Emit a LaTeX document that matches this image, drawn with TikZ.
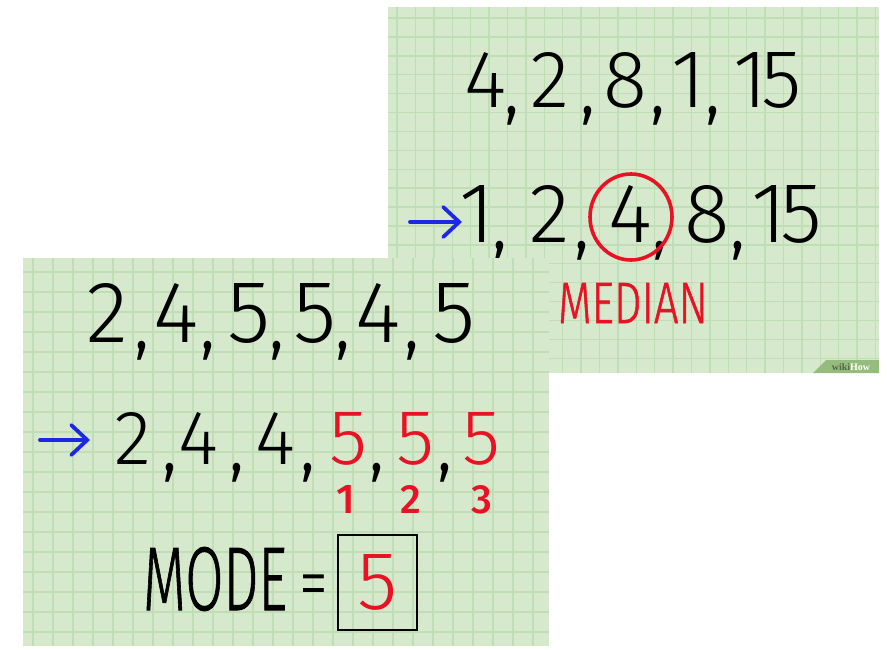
\documentclass[tikz,border=0pt]{standalone}
\usepackage{fontspec}
\usepackage{graphicx}
\newfontfamily\hand{Fira Sans Light}
\newfontfamily\handb{Fira Sans Light}[FakeBold=1.1]
\newfontfamily\handr{Fira Sans}
\newfontfamily\handm{Fira Sans Medium}
\newfontfamily\badgefont{Liberation Serif}
\usetikzlibrary{arrows.meta}
\definecolor{paper}{RGB}{214,233,204}
\definecolor{gridc}{RGB}{191,222,181}
\definecolor{inkred}{RGB}{232,18,36}
\definecolor{inkblue}{RGB}{28,40,228}
\definecolor{badgec}{RGB}{150,188,125}
\definecolor{badgedark}{RGB}{88,100,78}
\newlength\dgh
% one digit, centred on the current point, of height \dgh
\newcommand\C[1]{\makebox[0pt]{\resizebox{!}{\dgh}{\hand\fontsize{80}{80}\selectfont #1}}}
\newcommand\R[1]{\textcolor{inkred}{\C{#1}}}
% a comma, centred on the current point
\newcommand\K{\makebox[0pt]{\raisebox{-7pt}{\scalebox{1}[1.2]{\handr\fontsize{54}{54}\selectfont ,}}}}
\newcommand\G[1]{\hspace*{#1pt}}
\newcommand\hw[3]{\resizebox{#1}{#2}{\handb\fontsize{80}{80}\selectfont #3}}
\begin{document}
\begin{tikzpicture}[x=1pt,y=-1pt,
  gridl/.style={draw=gridc,line width=1.4pt},
  rowtext/.style={inner sep=0pt,anchor=base west,text=black},
  digch/.style={inner sep=0pt,anchor=base,text=black},
  redch/.style={digch,text=inkred},
  bluearrow/.style={draw=inkblue,line width=3.8pt,line cap=round,
    -{Straight Barb[length=16pt,width=30pt,line cap=round]}}]
\useasboundingbox (0,0) rectangle (887,649);
\fill[white] (0,0) rectangle (887,649);
% ---------- top-right panel ----------
\fill[paper] (388,7) rectangle (879,373);
\begin{scope}
\clip (388,7) rectangle (879,373);
\foreach \i in {0,...,26} \draw[gridl] ({397+18.4*\i},7) -- ({397+18.4*\i},373);
\foreach \j in {0,...,19} \draw[gridl] (388,{18+18.9*\j}) -- (879,{18+18.9*\j});
\end{scope}
\fill[badgec] (813,373) -- (826,360) -- (879,360) -- (879,373) -- cycle;
\node[inner sep=0pt,font=\badgefont\bfseries\fontsize{10}{10}\selectfont] (wh) at (851,367.5)
  {\textcolor{badgedark}{wiki}\textcolor{white}{How}};
% row 1 : 4,2,8,1,15
\node[rowtext] (toprow) at (485,107) {\setlength\dgh{55pt}%
  \C{4}\G{27}\K\G{38}\C{2}\G{38}\K\G{37}\C{8}\G{33}\K\G{30}\C{1}\G{25}\K\G{54}\C{1\kern-6pt5}};
% row 2 : 1,2,4,8,15
\coordinate (a1s) at (410,222);
\coordinate (a1e) at (462,222);
\draw[bluearrow] (a1s) -- (a1e);
\node[rowtext] (sortedrow) at (477,242) {\setlength\dgh{57pt}%
  \C{1}\G{23}\K\G{49}\C{2}\G{33}\K\G{48}\C{4}\G{30}\K\G{47}\C{8}\G{31}\K\G{49}\C{1\kern-6pt5}};
\draw[inkred,line width=3.6pt] (631,217) ellipse [x radius=41,y radius=43];
\node[redch] (median) at (633,323) {\hw{150pt}{40pt}{MEDIAN}};
% ---------- bottom-left panel ----------
\fill[paper] (23,258) rectangle (549,646);
\begin{scope}
\clip (23,258) rectangle (549,646);
\foreach \i in {0,...,25} \draw[gridl] ({33+20*\i},258) -- ({33+20*\i},646);
\foreach \j in {0,...,18} \draw[gridl] (23,{272+20*\j}) -- (549,{272+20*\j});
\end{scope}
% row 1 : 2,4,5,5,4,5
\node[rowtext] (moderow) at (107,342) {\setlength\dgh{59pt}%
  \C{2}\G{35}\K\G{34}\C{4}\G{32}\K\G{41}\C{5}\G{28}\K\G{38}\C{5}\G{28}\K\G{35}\C{4}\G{34}\K\G{42}\C{5}};
% row 2 : 2,4,4,5,5,5
\coordinate (a2s) at (40,440);
\coordinate (a2e) at (90,440);
\draw[bluearrow] (a2s) -- (a2e);
\node[rowtext] (modesorted) at (133,464) {\setlength\dgh{52pt}%
  \C{2}\G{37}\K\G{28}\C{4}\G{39}\K\G{38}\C{4}\G{33}\K\G{40}\R{5}\G{29}\K\G{38}\R{5}\G{30}\K\G{36}\R{5}};
\foreach \x/\c [count=\i] in {346/1,411/2,482/3}
  \node[redch] (sub\i) at (\x,513) {\resizebox{!}{28pt}{\handm\fontsize{40}{40}\selectfont\c}};
% MODE row
\node[digch] (mode) at (215,610) {\hw{144pt}{63pt}{MODE}};
\node[digch] (eq) at (314,609) {\scalebox{0.75}[1]{\hand\fontsize{78}{78}\selectfont=}};
\node[draw=black,line width=2.4pt,minimum width=79pt,minimum height=95pt,inner sep=0pt,text=inkred]
  (box) at (377.5,582.5) {\setlength\dgh{55pt}\C{5}};
\end{tikzpicture}
\end{document}
